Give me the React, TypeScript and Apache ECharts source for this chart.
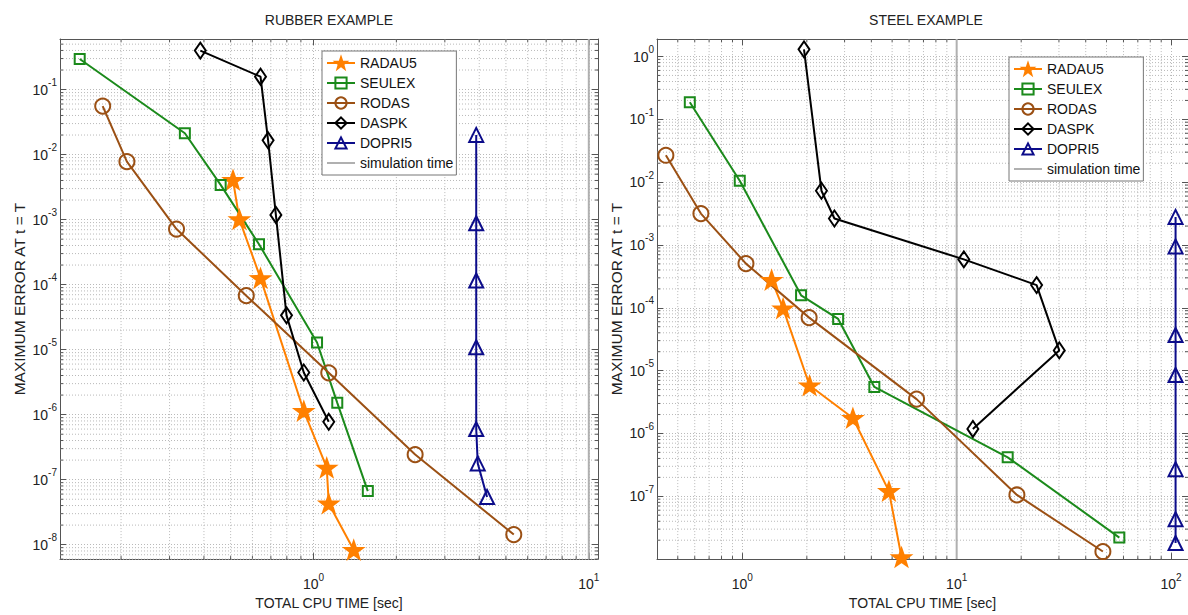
import React, { useEffect, useRef } from 'react';
import * as echarts from 'echarts';

const FONT = "'Liberation Sans', Arial, sans-serif";

// ---------- data: RUBBER EXAMPLE ----------
const rubberRadau5Time = [0.51, 0.538, 0.642, 0.922, 1.117, 1.136, 1.4];
const rubberRadau5Err = [4.07e-3, 1.01e-3, 1.26e-4, 1.14e-6, 1.53e-7, 4.29e-8, 8.3e-9];
const rubberSeulexTime = [0.1415, 0.341, 0.46, 0.634, 1.03, 1.22, 1.575];
const rubberSeulexErr = [0.296, 0.0213, 3.42e-3, 4.17e-4, 1.29e-5, 1.52e-6, 6.67e-8];
const rubberRodasTime = [0.1715, 0.21, 0.318, 0.57, 1.136, 2.34, 5.34];
const rubberRodasErr = [0.0558, 7.78e-3, 7.16e-4, 6.76e-5, 4.4e-6, 2.43e-7, 1.43e-8];
const rubberDaspkTime = [0.388, 0.642, 0.684, 0.73, 0.798, 0.922, 1.136];
const rubberDaspkErr = [0.398, 0.158, 0.0166, 1.18e-3, 3.37e-5, 4.45e-6, 7.76e-7];
const rubberDopri5Time = [3.9, 3.9, 3.9, 3.9, 3.9, 3.95, 4.27];
const rubberDopri5Err = [0.0201, 8.8e-4, 1.16e-4, 1.09e-5, 6e-7, 1.78e-7, 5.4e-8];

// ---------- data: STEEL EXAMPLE ----------
const steelRadau5Time = [1.37, 1.55, 2.06, 3.28, 4.83, 5.53];
const steelRadau5Err = [2.78e-4, 9.8e-5, 5.8e-6, 1.76e-6, 1.21e-7, 1.07e-8];
const steelSeulexTime = [0.569, 0.973, 1.88, 2.8, 4.13, 17.3, 57.4];
const steelSeulexErr = [0.187, 0.0105, 1.58e-4, 6.65e-5, 5.5e-6, 4.17e-7, 2.2e-8];
const steelRodasTime = [0.44, 0.641, 1.04, 2.05, 6.5, 19.1, 48.1];
const steelRodasErr = [0.0268, 3.16e-3, 5.05e-4, 6.98e-5, 3.52e-6, 1.05e-7, 1.32e-8];
const steelDaspkTime = [1.94, 2.34, 2.69, 10.8, 23.6, 30.1, 11.9];
const steelDaspkErr = [1.3, 7.3e-3, 2.64e-3, 5.9e-4, 2.3e-4, 2.1e-5, 1.18e-6];
const steelDopri5Time = [105, 105, 105, 105, 105, 105, 105];
const steelDopri5Err = [2.8e-3, 9.5e-4, 3.7e-5, 8.5e-6, 2.7e-7, 4.3e-8, 1.8e-8];

// axis ranges
const rubberXRange = [0.12, 10.8];
const rubberYRange = [6e-9, 0.6];
const steelXRange = [0.4, 120];
const steelYRange = [1e-8, 1.9];
const simulationTime = 10;

const legendNames = ['RADAU5', 'SEULEX', 'RODAS', 'DASPK', 'DOPRI5', 'simulation time'];
const panelTitles = ['RUBBER EXAMPLE', 'STEEL EXAMPLE'];
const xAxisTitle = 'TOTAL CPU TIME [sec]';
const yAxisTitle = 'MAXIMUM ERROR AT t = T';

const STAR =
  'path://M0,-10 L2.35,-3.24 L9.51,-3.09 L3.8,1.24 L5.88,8.09 L0,4 L-5.88,8.09 L-3.8,1.24 L-9.51,-3.09 L-2.35,-3.24 Z';

const styleMap: Record<string, any> = {
  RADAU5: { color: '#ff8000', symbol: STAR, size: 18, fill: '#ff8000' },
  SEULEX: { color: '#1b8a1b', symbol: 'rect', size: 10, fill: 'rgba(0,0,0,0)' },
  RODAS: { color: '#9b5014', symbol: 'circle', size: 15, fill: 'rgba(0,0,0,0)' },
  DASPK: { color: '#000000', symbol: 'diamond', size: [11, 16], fill: 'rgba(0,0,0,0)' },
  DOPRI5: { color: '#0c0c8a', symbol: 'triangle', size: 14, fill: 'rgba(0,0,0,0)' },
};

const SIM_COLOR = '#b0b0b0';
const GRID_COLOR = '#b9b9b9';
const FRAME_COLOR = '#555';

function minorValues(lo: number, hi: number) {
  const out: number[] = [];
  for (let e = -10; e <= 3; e++) {
    for (let k = 2; k <= 9; k++) {
      const v = k * Math.pow(10, e);
      if (v > lo && v < hi) out.push(v);
    }
  }
  return out;
}

function supLabel(v: number) {
  const e = Math.round(Math.log10(v));
  const p = Math.pow(10, e);
  if (Math.abs(v - p) / p > 1e-6) return '';
  return `{b|10}{s|${e}}`;
}

const labelRich = {
  b: { fontSize: 14, lineHeight: 24, verticalAlign: 'middle', fontFamily: FONT, color: '#222' },
  s: { fontSize: 10, lineHeight: 10, verticalAlign: 'top', fontFamily: FONT, color: '#222' },
};

function lineSeries(name: string, t: number[], err: number[], axis: number) {
  const st = styleMap[name];
  return {
    name,
    type: 'line',
    xAxisIndex: axis,
    yAxisIndex: axis,
    data: t.map((x, i) => [x, err[i]]),
    symbol: st.symbol,
    symbolSize: st.size,
    symbolKeepAspect: true,
    showAllSymbol: true,
    color: st.color,
    lineStyle: { color: st.color, width: 2 },
    itemStyle: { color: st.fill, borderColor: st.color, borderWidth: 2 },
    z: 4,
    clip: true,
  };
}

function simSeries(axis: number, yr: number[]) {
  return {
    name: 'simulation time',
    type: 'line',
    xAxisIndex: axis,
    yAxisIndex: axis,
    data: [
      [simulationTime, yr[0]],
      [simulationTime, yr[1]],
    ],
    symbol: 'none',
    clip: false,
    color: SIM_COLOR,
    lineStyle: { color: SIM_COLOR, width: 2 },
    z: 3,
  };
}

function minorGridSeries(axis: number, xr: number[], yr: number[]) {
  const mx = minorValues(xr[0], xr[1]);
  const my = minorValues(yr[0], yr[1]);
  const xs = {
    type: 'custom',
    xAxisIndex: axis,
    yAxisIndex: axis,
    silent: true,
    z: 1,
    data: mx.map((v) => [v, yr[0]]),
    renderItem: (params: any, api: any) => {
      const v = api.value(0);
      const a = api.coord([v, yr[0]]);
      const b = api.coord([v, yr[1]]);
      return {
        type: 'group',
        children: [
          { type: 'line', shape: { x1: a[0], y1: a[1], x2: b[0], y2: b[1] }, style: { stroke: GRID_COLOR, lineWidth: 1, lineDash: [1, 2] } },
          { type: 'line', shape: { x1: a[0], y1: a[1], x2: a[0], y2: a[1] - 3 }, style: { stroke: FRAME_COLOR, lineWidth: 1 } },
          { type: 'line', shape: { x1: b[0], y1: b[1], x2: b[0], y2: b[1] + 3 }, style: { stroke: FRAME_COLOR, lineWidth: 1 } },
        ],
      };
    },
  };
  const ys = {
    type: 'custom',
    xAxisIndex: axis,
    yAxisIndex: axis,
    silent: true,
    z: 1,
    data: my.map((v) => [xr[0], v]),
    renderItem: (params: any, api: any) => {
      const v = api.value(1);
      const a = api.coord([xr[0], v]);
      const b = api.coord([xr[1], v]);
      return {
        type: 'group',
        children: [
          { type: 'line', shape: { x1: a[0], y1: a[1], x2: b[0], y2: b[1] }, style: { stroke: GRID_COLOR, lineWidth: 1, lineDash: [1, 2] } },
          { type: 'line', shape: { x1: a[0], y1: a[1], x2: a[0] + 3, y2: a[1] }, style: { stroke: FRAME_COLOR, lineWidth: 1 } },
          { type: 'line', shape: { x1: b[0], y1: b[1], x2: b[0] - 3, y2: b[1] }, style: { stroke: FRAME_COLOR, lineWidth: 1 } },
        ],
      };
    },
  };
  return [xs, ys];
}

function mainXAxis(grid: number, r: number[]) {
  return {
    type: 'log',
    logBase: 10,
    gridIndex: grid,
    min: r[0],
    max: r[1],
    splitNumber: 10,
    position: 'bottom',
    axisLine: { show: true, lineStyle: { color: FRAME_COLOR, width: 1 } },
    axisTick: { show: true, inside: true, length: 6, lineStyle: { color: FRAME_COLOR } },
    axisLabel: { show: true, margin: 13, formatter: supLabel, rich: labelRich, showMinLabel: false, showMaxLabel: false },
    splitLine: { show: true, lineStyle: { color: GRID_COLOR, type: [1, 2], width: 1 } },
    name: xAxisTitle,
    nameLocation: 'middle',
    nameGap: 27,
    nameTextStyle: { fontFamily: FONT, fontSize: 14, color: '#222' },
  };
}

function frameXAxis(grid: number, r: number[]) {
  return {
    type: 'log',
    logBase: 10,
    gridIndex: grid,
    min: r[0],
    max: r[1],
    splitNumber: 10,
    position: 'top',
    axisLine: { show: true, lineStyle: { color: FRAME_COLOR, width: 1 } },
    axisTick: { show: true, inside: true, length: 6, lineStyle: { color: FRAME_COLOR } },
    axisLabel: { show: false },
    splitLine: { show: false },
  };
}

function mainYAxis(grid: number, r: number[]) {
  return {
    type: 'log',
    logBase: 10,
    gridIndex: grid,
    min: r[0],
    max: r[1],
    splitNumber: 10,
    position: 'left',
    axisLine: { show: true, lineStyle: { color: FRAME_COLOR, width: 1 } },
    axisTick: { show: true, inside: true, length: 6, lineStyle: { color: FRAME_COLOR } },
    axisLabel: { show: true, margin: 3, formatter: supLabel, rich: labelRich, showMinLabel: false, showMaxLabel: false },
    splitLine: { show: true, lineStyle: { color: GRID_COLOR, type: [1, 2], width: 1 } },
    name: yAxisTitle,
    nameLocation: 'middle',
    nameGap: 33,
    nameTextStyle: { fontFamily: FONT, fontSize: 15.5, color: '#222' },
  };
}

function frameYAxis(grid: number, r: number[]) {
  return {
    type: 'log',
    logBase: 10,
    gridIndex: grid,
    min: r[0],
    max: r[1],
    splitNumber: 10,
    position: 'right',
    axisLine: { show: true, lineStyle: { color: FRAME_COLOR, width: 1 } },
    axisTick: { show: true, inside: true, length: 6, lineStyle: { color: FRAME_COLOR } },
    axisLabel: { show: false },
    splitLine: { show: false },
  };
}

function legendAt(left: number, top: number) {
  return {
    data: legendNames.map((n) =>
      n === 'simulation time' ? { name: n, icon: 'path://M0,0 L28,0 L28,2 L0,2 Z' } : { name: n }
    ),
    orient: 'vertical',
    left,
    top,
    itemWidth: 28,
    itemHeight: 14,
    itemGap: 6,
    padding: [5, 3, 5, 4],
    selectedMode: false,
    backgroundColor: '#ffffff',
    borderColor: '#777',
    borderWidth: 1,
    borderRadius: 0,
    textStyle: { fontFamily: FONT, fontSize: 14, color: '#111', padding: [1, 0, 0, 0] },
  };
}

export default function App() {
  const ref = useRef<HTMLDivElement>(null);
  useEffect(() => {
    if (!ref.current) return;
    const chart = echarts.init(ref.current, undefined, { renderer: 'svg' });
    const option: any = {
      animation: false,
      backgroundColor: '#ffffff',
      grid: [
        { left: 60, top: 39, width: 538, height: 530 },
        { left: 657, top: 39, width: 538, height: 530 },
      ],
      xAxis: [
        mainXAxis(0, rubberXRange),
        frameXAxis(0, rubberXRange),
        mainXAxis(1, steelXRange),
        frameXAxis(1, steelXRange),
      ],
      yAxis: [
        mainYAxis(0, rubberYRange),
        frameYAxis(0, rubberYRange),
        mainYAxis(1, steelYRange),
        frameYAxis(1, steelYRange),
      ],
      legend: [legendAt(322, 51), legendAt(1009, 57)],
      graphic: [
        { type: 'text', x: 329, y: 20, style: { text: panelTitles[0], font: `14px ${FONT}`, fill: '#222', textAlign: 'center', textVerticalAlign: 'middle' } },
        { type: 'text', x: 926, y: 20, style: { text: panelTitles[1], font: `14px ${FONT}`, fill: '#222', textAlign: 'center', textVerticalAlign: 'middle' } },
      ],
      series: [
        ...minorGridSeries(0, rubberXRange, rubberYRange),
        ...minorGridSeries(2, steelXRange, steelYRange),
        simSeries(0, rubberYRange),
        simSeries(2, steelYRange),
        lineSeries('RADAU5', rubberRadau5Time, rubberRadau5Err, 0),
        lineSeries('SEULEX', rubberSeulexTime, rubberSeulexErr, 0),
        lineSeries('RODAS', rubberRodasTime, rubberRodasErr, 0),
        lineSeries('DASPK', rubberDaspkTime, rubberDaspkErr, 0),
        lineSeries('DOPRI5', rubberDopri5Time, rubberDopri5Err, 0),
        lineSeries('RADAU5', steelRadau5Time, steelRadau5Err, 2),
        lineSeries('SEULEX', steelSeulexTime, steelSeulexErr, 2),
        lineSeries('RODAS', steelRodasTime, steelRodasErr, 2),
        lineSeries('DASPK', steelDaspkTime, steelDaspkErr, 2),
        lineSeries('DOPRI5', steelDopri5Time, steelDopri5Err, 2),
      ],
    };
    chart.setOption(option);
    return () => chart.dispose();
  }, []);
  return <div ref={ref} style={{ position: 'fixed', left: 0, top: 0, width: 1188, height: 615, background: '#fff' }} />;
}
